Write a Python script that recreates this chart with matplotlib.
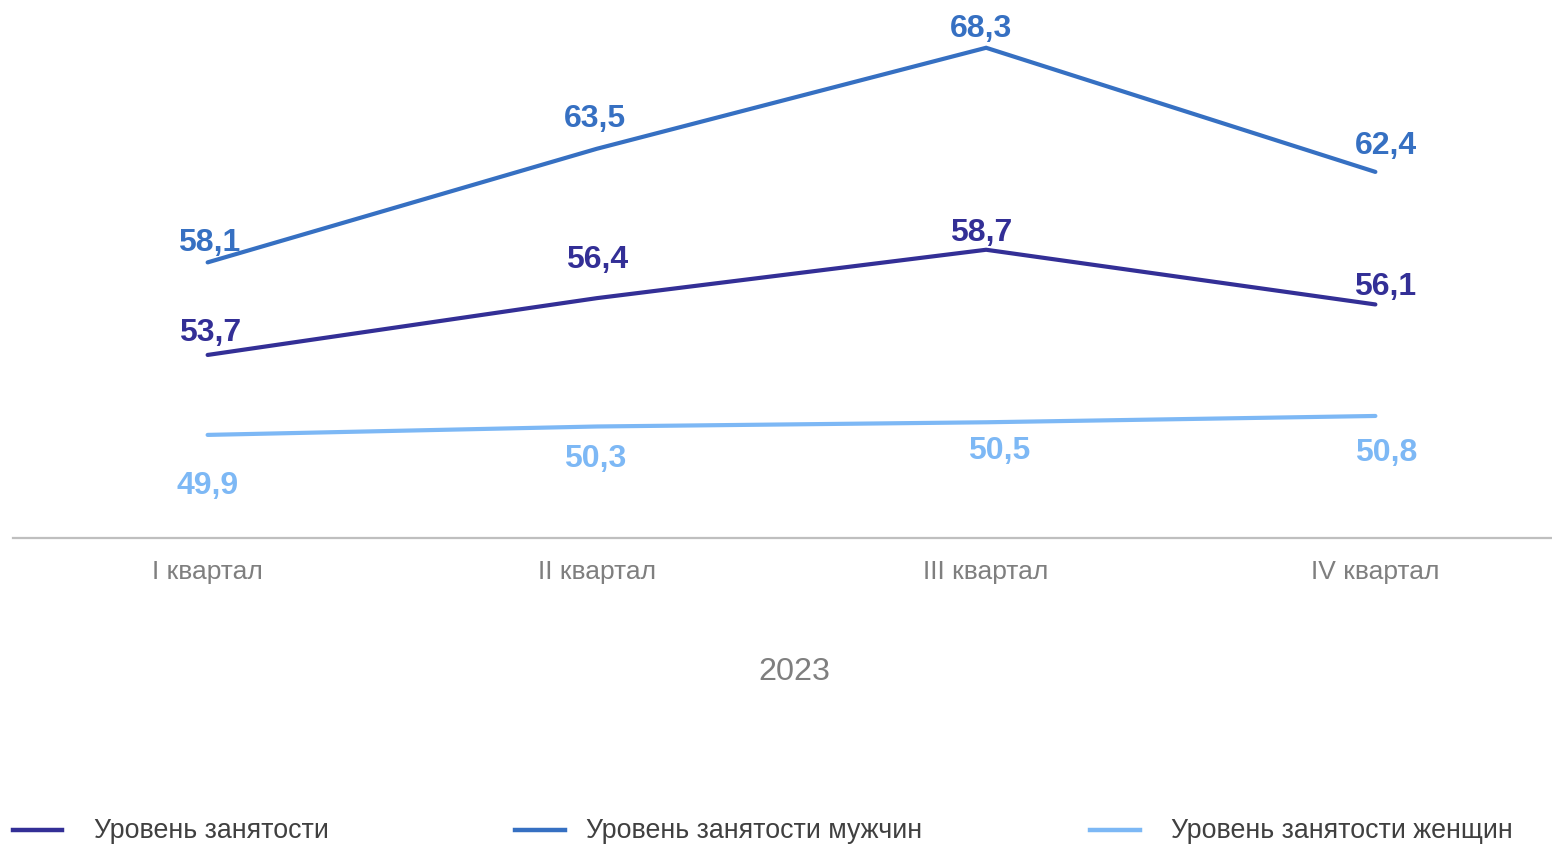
import matplotlib
matplotlib.use("Agg")
import matplotlib.pyplot as plt
from matplotlib.lines import Line2D

plt.rcParams['font.family'] = ['Liberation Sans', 'DejaVu Sans']

categories = ["I квартал", "II квартал", "III квартал", "IV квартал"]
total = [53.7, 56.4, 58.7, 56.1]
men = [58.1, 63.5, 68.3, 62.4]
women = [49.9, 50.3, 50.5, 50.8]
series_names = ["Уровень занятости", "Уровень занятости мужчин", "Уровень занятости женщин"]
year_label = "2023"

colors = ["#332F96", "#3670C2", "#7DB8F5"]
# label offsets in pixels (dx, dy)
offsets = [
    [(2, 22), (0, 38), (-5, 17), (10, 17)],
    [(2, 19), (-2, 30), (-5, 19), (11, 26)],
    [(0, -51), (-2, -33), (13, -29), (11, -37)],
]

W, H = 1552, 844
fig = plt.figure(figsize=(W / 100, H / 100), dpi=100)
ax = fig.add_axes([13 / W, (H - 538) / H, 1557 / W, (538 - 12) / H])
x = list(range(len(categories)))
ax.set_xlim(-0.5, 3.5)
ax.set_ylim(45, 70)

for vals, col, offs in zip([total, men, women], colors, offsets):
    ax.plot(x, vals, color=col, lw=3.0, solid_capstyle='round', solid_joinstyle='miter', clip_on=False)
    for xi, v, (dx, dy) in zip(x, vals, offs):
        ax.annotate(f"{v:.1f}".replace('.', ','), (xi, v), xytext=(dx, dy),
                    textcoords='offset pixels', ha='center', va='center',
                    fontsize=23, fontweight='bold', color=col, annotation_clip=False)

for s in ['top', 'left', 'right']:
    ax.spines[s].set_visible(False)
ax.spines['bottom'].set_color('#BFBFBF')
ax.spines['bottom'].set_linewidth(1.6)
ax.set_yticks([])
ax.set_xticks(x)
ax.set_xticklabels(categories, fontsize=19, color='#7F7F7F')
ax.tick_params(axis='x', length=0, pad=16)
ax.set_facecolor('none')

fig.text(794 / W, 1 - 672 / H, year_label, ha='center', va='center', fontsize=23.3, color='#7F7F7F')

leg_line_x = [(13, 62), (515, 565), (1090, 1140)]
leg_text_x = [94, 586, 1171]
ly = 1 - 831 / H
for (x0, x1), tx, col, name in zip(leg_line_x, leg_text_x, colors, series_names):
    fig.add_artist(Line2D([x0 / W, x1 / W], [ly + 1 / H, ly + 1 / H], transform=fig.transFigure, color=col, lw=3.2))
    fig.text(tx / W, ly, name, ha='left', va='center', fontsize=19.3, color='#404040')

fig.savefig("out.png", dpi=100)
